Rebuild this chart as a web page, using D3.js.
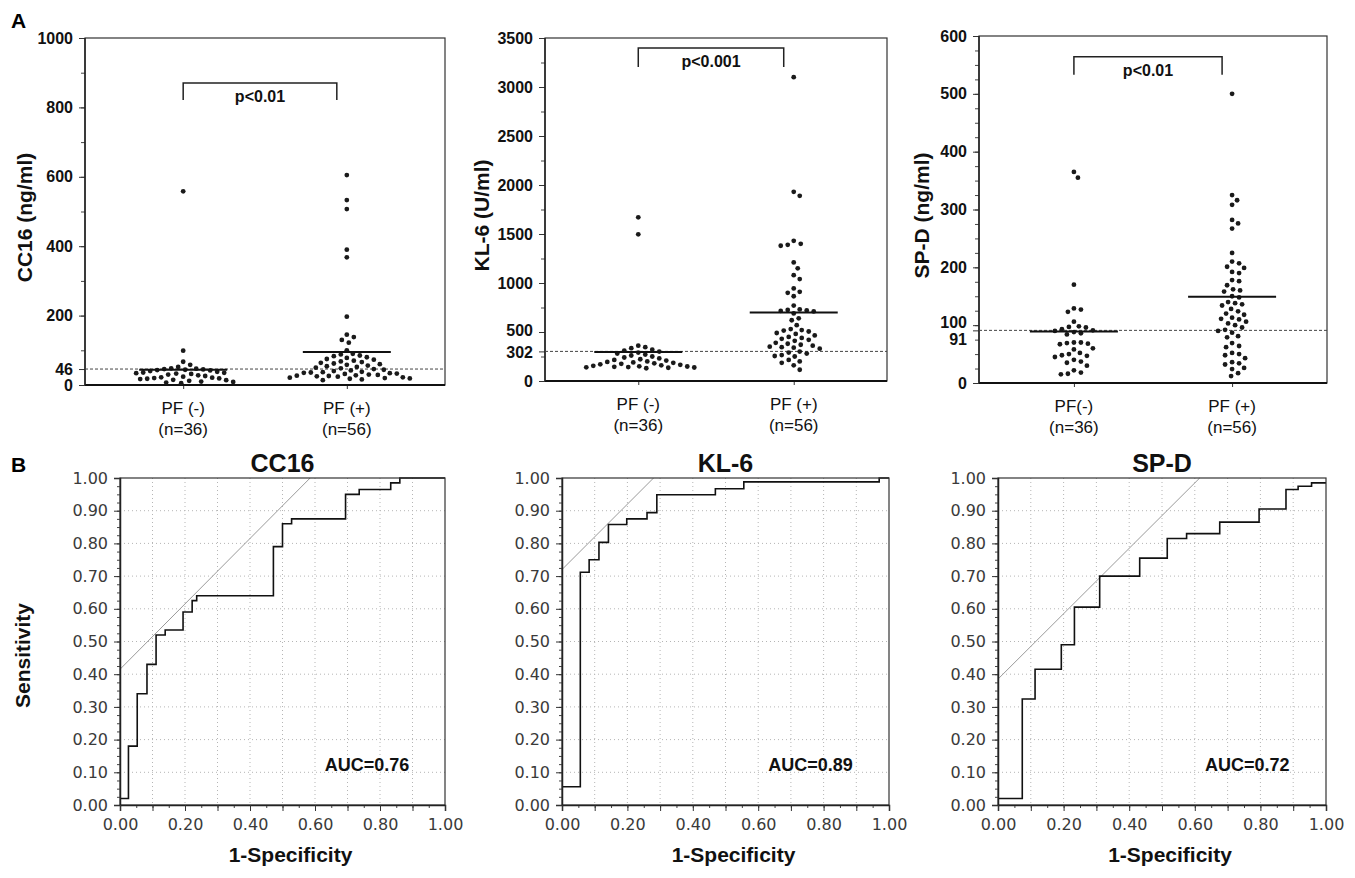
<!DOCTYPE html>
<html>
<head>
<meta charset="utf-8">
<script src="https://cdn.jsdelivr.net/npm/d3@7"></script>
<style>
  body { margin: 0; background: #fff; }
  svg { display: block; font-family: "Liberation Sans", Arial, sans-serif; }
</style>
</head>
<body>
<svg id="fig" width="1355" height="878"></svg>
<script>
// ---- data ----
const groups = ['PF(-)', 'PF(+)'];

// panel A : serum levels per patient
const cc16Neg = [558, 99, 67, 58, 52, 48, 47, 46, 45, 44, 43, 42, 40, 38, 36, 35, 34, 33, 32, 30,
  28, 26, 24, 22, 21, 20, 19, 18, 17, 15, 14, 12, 10, 9, 7, 5];
const cc16Pos = [605, 533, 507, 390, 368, 197, 145, 138, 130, 122, 100,
  90, 88, 85, 83, 80, 78, 75, 73, 70, 68, 66, 64, 62, 60, 58, 56, 54, 52, 50, 48,
  46, 44, 42, 40, 38, 37, 36, 35, 34, 33, 32, 30, 29, 28, 27, 26, 25, 24, 22, 21,
  20, 19, 18, 16, 14];
const kl6Neg = [1670, 1497, 360, 345, 335, 320, 310, 300, 290, 280, 270, 260, 250, 240, 230, 222,
  215, 208, 200, 195, 190, 185, 180, 175, 170, 165, 160, 155, 150, 148, 145, 142, 140, 138, 135, 130];
const kl6Pos = [3100, 1930, 1890, 1430, 1400, 1390, 1380, 1210, 1150, 1080, 1040, 945, 910, 900, 865,
  770, 730, 725, 720, 715, 710, 690, 640, 620, 570, 530, 520, 515, 505, 490, 480,
  465, 450, 440, 430, 420, 410, 390, 380, 370, 360, 350, 345, 340, 330,
  300, 290, 280, 265, 255, 250, 215, 200, 185, 160, 115];
const spdNeg = [365, 355, 170, 129, 127, 123, 106, 98, 97, 96, 93, 91, 90, 88, 86, 84, 70, 70, 69, 68,
  67, 60, 58, 52, 50, 48, 47, 45, 40, 37, 35, 30, 22, 18, 16, 15];
const spdPos = [500, 325, 316, 308, 282, 276, 267, 225, 210, 207, 201, 199, 192, 190, 178, 176, 169,
  162, 160, 158, 150, 148, 140, 138, 136, 134, 128, 124, 120, 118, 113, 111, 110, 106, 103, 100,
  96, 92, 90, 87, 81, 79, 69, 64, 62, 52, 50, 48, 43, 36, 34, 32, 26, 24, 17, 12];

const cutoffs = [46, 302, 91];
const cc16Means = [44, 95];
const kl6Means = [296, 700];
const spdMeans = [89, 149];

// panel B : ROC step curves (1-specificity, sensitivity)
const cc16Fpr = [0, 0.026, 0.053, 0.083, 0.111, 0.139, 0.194, 0.222, 0.236, 0.472, 0.5, 0.528, 0.694, 0.736, 0.833, 0.861, 1.0];
const cc16Tpr = [0.02, 0.18, 0.34, 0.43, 0.52, 0.535, 0.59, 0.625, 0.64, 0.79, 0.86, 0.875, 0.95, 0.965, 0.985, 1.0, 1.0];
const kl6Fpr = [0, 0.056, 0.083, 0.113, 0.142, 0.198, 0.26, 0.29, 0.469, 0.556, 0.97, 1.0];
const kl6Tpr = [0.056, 0.712, 0.75, 0.803, 0.858, 0.875, 0.894, 0.949, 0.967, 0.988, 1.0, 1.0];
const spdFpr = [0, 0.074, 0.113, 0.193, 0.233, 0.31, 0.432, 0.516, 0.575, 0.676, 0.796, 0.878, 0.915, 0.956, 1.0];
const spdTpr = [0.02, 0.324, 0.415, 0.49, 0.605, 0.70, 0.755, 0.815, 0.83, 0.865, 0.905, 0.965, 0.975, 0.985, 0.985];

// tangent (reference) lines : [x0, x1], [y0, y1]
const refFpr = [[0, 0.585], [0, 0.28], [0, 0.615]];
const refTpr = [[0.415, 1], [0.72, 1], [0.385, 1]];
const aucLabels = ['AUC=0.76', 'AUC=0.89', 'AUC=0.72'];
const rocTitles = ['CC16', 'KL-6', 'SP-D'];

// ---- layout ----
const svg = d3.select('#fig');
svg.append('rect').attr('width', 1355).attr('height', 878).attr('fill', '#fff');

const dotPanels = [
  { neg: cc16Neg, pos: cc16Pos, cut: cutoffs[0], means: cc16Means, label: 'CC16 (ng/ml)', max: 1000,
    majors: [0, 200, 400, 600, 800, 1000], minor: 100, p: 'p<0.01', bracket: [870, 821],
    cats: [['PF (-)', '(n=36)'], ['PF (+)', '(n=56)']], left: 85, right: 445, top: 38, bottom: 385, titleX: 24, cutDy: 0, nearDy: 0 },
  { neg: kl6Neg, pos: kl6Pos, cut: cutoffs[1], means: kl6Means, label: 'KL-6 (U/ml)', max: 3500,
    majors: [0, 500, 1000, 1500, 2000, 2500, 3000, 3500], minor: 250, p: 'p<0.001', bracket: [3398, 3204],
    cats: [['PF (-)', '(n=36)'], ['PF (+)', '(n=56)']], left: 545, right: 887, top: 38, bottom: 381, titleX: 481, cutDy: 1, nearDy: -2 },
  { neg: spdNeg, pos: spdPos, cut: cutoffs[2], means: spdMeans, label: 'SP-D (ng/ml)', max: 600,
    majors: [0, 100, 200, 300, 400, 500, 600], minor: 25, p: 'p<0.01', bracket: [564, 533],
    cats: [['PF(-)', '(n=36)'], ['PF (+)', '(n=56)']], left: 979, right: 1327, top: 36, bottom: 383, titleX: 921, cutDy: 9, nearDy: -3 }
];

// simple deterministic swarm: keep y, push x sideways until no overlap
function swarm(values, y, cx, d) {
  const placed = [];
  values.slice().sort((a, b) => b - a).forEach(v => {
    const py = y(v);
    for (let k = 0; k < 400; k++) {
      const off = k === 0 ? 0 : (k % 2 ? (k + 1) / 2 : -k / 2);
      const px = cx + off;
      if (placed.every(q => (q.x - px) ** 2 + (q.y - py) ** 2 >= d * d)) {
        placed.push({ x: px, y: py });
        break;
      }
    }
  });
  return placed;
}

dotPanels.forEach(p => {
  const g = svg.append('g');
  const y = d3.scaleLinear().domain([0, p.max]).range([p.bottom, p.top]);
  const x = d3.scalePoint().domain(groups).range([p.left, p.right]).padding(0.6);

  // minor ticks
  g.append('g')
    .attr('transform', `translate(${p.left},0)`)
    .call(d3.axisLeft(y).tickValues(d3.range(0, p.max + 1, p.minor)).tickSize(4).tickFormat(''))
    .call(a => a.select('.domain').remove())
    .selectAll('line').attr('stroke', '#444');

  // labelled ticks
  const ya = g.append('g')
    .attr('transform', `translate(${p.left},0)`)
    .call(d3.axisLeft(y).tickValues([...p.majors, p.cut]).tickSize(6).tickPadding(6).tickFormat(d3.format('d')));
  ya.select('.domain').remove();
  ya.selectAll('line').attr('stroke', '#333');
  ya.selectAll('text')
    .attr('font-size', 16).attr('font-weight', 'bold').attr('fill', '#111')
    .attr('font-family', '"Liberation Sans", Arial, sans-serif');
  // nudge the cut-off label and its nearest neighbour apart
  const near = p.majors.reduce((a, b) => Math.abs(b - p.cut) < Math.abs(a - p.cut) ? b : a);
  ya.selectAll('.tick').filter(d => d === p.cut).select('text').attr('dy', `${0.32 * 16 + p.cutDy}px`);
  ya.selectAll('.tick').filter(d => d === near && d !== 0).select('text').attr('dy', `${0.32 * 16 + p.nearDy}px`);

  // category ticks
  g.append('g')
    .attr('transform', `translate(0,${p.bottom})`)
    .call(d3.axisBottom(x).tickSize(4).tickFormat(''))
    .call(a => a.select('.domain').remove())
    .selectAll('line').attr('stroke', '#333');

  groups.forEach((k, i) => {
    const t = g.append('text').attr('text-anchor', 'middle').attr('font-size', 17).attr('fill', '#111');
    t.append('tspan').attr('x', x(k)).attr('y', p.bottom + 29).text(p.cats[i][0]);
    t.append('tspan').attr('x', x(k)).attr('y', p.bottom + 50).text(p.cats[i][1]);
  });

  // frame
  g.append('rect')
    .attr('x', p.left).attr('y', p.top)
    .attr('width', p.right - p.left).attr('height', p.bottom - p.top)
    .attr('fill', 'none').attr('stroke', '#333').attr('stroke-width', 1.2);
  g.append('line')
    .attr('x1', p.left).attr('x2', p.right).attr('y1', p.bottom).attr('y2', p.bottom)
    .attr('stroke', '#111').attr('stroke-width', 2);
  g.append('line')
    .attr('x1', p.left).attr('x2', p.left).attr('y1', p.top).attr('y2', p.bottom)
    .attr('stroke', '#222').attr('stroke-width', 1.5);

  // cut-off
  g.append('line')
    .attr('x1', p.left).attr('x2', p.right).attr('y1', y(p.cut)).attr('y2', y(p.cut))
    .attr('stroke', '#444').attr('stroke-width', 1).attr('stroke-dasharray', '3,2');

  // dots
  [p.neg, p.pos].forEach((vals, i) => {
    g.append('g').selectAll('circle')
      .data(swarm(vals, y, x(groups[i]), 6.8))
      .join('circle')
      .attr('cx', d => d.x).attr('cy', d => d.y).attr('r', 2.4)
      .attr('fill', '#1a1a1a');
  });

  // mean bars
  g.selectAll('.mean').data(p.means).join('line')
    .attr('x1', (d, i) => x(groups[i]) - 44).attr('x2', (d, i) => x(groups[i]) + 44)
    .attr('y1', d => y(d)).attr('y2', d => y(d))
    .attr('stroke', '#111').attr('stroke-width', 2);

  // significance bracket
  const bx1 = x(groups[0]), bx2 = x(groups[1]) - 10;
  g.append('path')
    .attr('d', `M${bx1},${y(p.bracket[1])}V${y(p.bracket[0])}H${bx2}V${y(p.bracket[1])}`)
    .attr('fill', 'none').attr('stroke', '#222').attr('stroke-width', 1.5);
  g.append('text')
    .attr('x', (bx1 + bx2) / 2).attr('y', y(p.bracket[0]) + 19)
    .attr('text-anchor', 'middle').attr('font-size', 16).attr('font-weight', 'bold').attr('fill', '#111')
    .text(p.p);

  // y title
  g.append('text')
    .attr('transform', `translate(${p.titleX},${(p.top + p.bottom) / 2 + 6}) rotate(-90)`)
    .attr('text-anchor', 'middle').attr('dominant-baseline', 'central')
    .attr('font-size', 21).attr('font-weight', 'bold').attr('fill', '#111')
    .text(p.label);
});

// ---- panel B ----
const rocPanels = [
  { fpr: cc16Fpr, tpr: cc16Tpr, left: 120, right: 445 },
  { fpr: kl6Fpr, tpr: kl6Tpr, left: 562, right: 889 },
  { fpr: spdFpr, tpr: spdTpr, left: 998, right: 1326 }
];
const rocTop = 478, rocBottom = 805;
const f2 = d3.format('.2f');

rocPanels.forEach((p, i) => {
  const g = svg.append('g');
  const x = d3.scaleLinear().domain([0, 1]).range([p.left, p.right]);
  const y = d3.scaleLinear().domain([0, 1]).range([rocBottom, rocTop]);
  const steps = d3.range(1, 10).map(k => k / 10);

  // dotted grid
  g.append('g').selectAll('line').data(steps).join('line')
    .attr('x1', d => x(d)).attr('x2', d => x(d)).attr('y1', rocTop).attr('y2', rocBottom)
    .attr('stroke', '#b5b5b5').attr('stroke-width', 1).attr('stroke-dasharray', '1,3');
  g.append('g').selectAll('line').data(steps).join('line')
    .attr('y1', d => y(d)).attr('y2', d => y(d)).attr('x1', p.left).attr('x2', p.right)
    .attr('stroke', '#b5b5b5').attr('stroke-width', 1).attr('stroke-dasharray', '1,3');

  // reference line
  g.append('line')
    .attr('x1', x(refFpr[i][0])).attr('x2', x(refFpr[i][1]))
    .attr('y1', y(refTpr[i][0])).attr('y2', y(refTpr[i][1]))
    .attr('stroke', '#9a9a9a').attr('stroke-width', 1);

  // ROC curve
  const line = d3.line().x(d => x(d[0])).y(d => y(d[1])).curve(d3.curveStepAfter);
  g.append('path')
    .datum(d3.zip(p.fpr, p.tpr))
    .attr('d', line)
    .attr('fill', 'none').attr('stroke', '#111').attr('stroke-width', 1.6);

  // frame
  g.append('rect')
    .attr('x', p.left).attr('y', rocTop).attr('width', p.right - p.left).attr('height', rocBottom - rocTop)
    .attr('fill', 'none').attr('stroke', '#333').attr('stroke-width', 1.2);

  // minor ticks
  g.append('g').attr('transform', `translate(${p.left},0)`)
    .call(d3.axisLeft(y).tickValues(d3.range(0, 1.001, 0.025)).tickSize(3).tickFormat(''))
    .call(a => a.select('.domain').remove())
    .selectAll('line').attr('stroke', '#444');
  g.append('g').attr('transform', `translate(0,${rocBottom})`)
    .call(d3.axisBottom(x).tickValues(d3.range(0, 1.001, 0.05)).tickSize(3).tickFormat(''))
    .call(a => a.select('.domain').remove())
    .selectAll('line').attr('stroke', '#444');

  // major axes
  const ya = g.append('g').attr('transform', `translate(${p.left},0)`)
    .call(d3.axisLeft(y).tickValues(d3.range(0, 11).map(k => k / 10)).tickSize(6).tickPadding(6).tickFormat(f2));
  const xa = g.append('g').attr('transform', `translate(0,${rocBottom})`)
    .call(d3.axisBottom(x).tickValues(d3.range(0, 11).map(k => k / 10)).tickSize(6).tickPadding(8)
      .tickFormat(d => Math.round(d * 10) % 2 === 0 ? f2(d) : ''));
  [ya, xa].forEach(a => {
    a.select('.domain').attr('stroke', '#222').attr('stroke-width', 1.5);
    a.selectAll('line').attr('stroke', '#333');
    a.selectAll('text').attr('font-family', '"DejaVu Sans", Verdana, sans-serif')
      .attr('font-size', 16).attr('fill', '#3a3a3a');
  });

  // title and AUC
  g.append('text')
    .attr('x', (p.left + p.right) / 2).attr('y', rocTop - 6)
    .attr('text-anchor', 'middle').attr('font-size', 25).attr('font-weight', 'bold').attr('fill', '#111')
    .text(rocTitles[i]);
  g.append('text')
    .attr('x', x(0.76)).attr('y', y(0.105))
    .attr('text-anchor', 'middle').attr('font-size', 18).attr('font-weight', 'bold').attr('fill', '#111')
    .text(aucLabels[i]);

  // x title
  g.append('text')
    .attr('x', (p.left + p.right) / 2 + 8).attr('y', 862)
    .attr('text-anchor', 'middle').attr('font-size', 21).attr('font-weight', 'bold').attr('fill', '#111')
    .text('1-Specificity');
});

svg.append('text')
  .attr('transform', `translate(22,${(rocTop + rocBottom) / 2 + 14}) rotate(-90)`)
  .attr('text-anchor', 'middle').attr('dominant-baseline', 'central')
  .attr('font-size', 21).attr('font-weight', 'bold').attr('fill', '#111')
  .text('Sensitivity');

// panel letters
svg.append('text').attr('x', 11).attr('y', 28).attr('font-size', 21).attr('font-weight', 'bold').text('A');
svg.append('text').attr('x', 11).attr('y', 472).attr('font-size', 21).attr('font-weight', 'bold').text('B');
</script>
</body>
</html>
